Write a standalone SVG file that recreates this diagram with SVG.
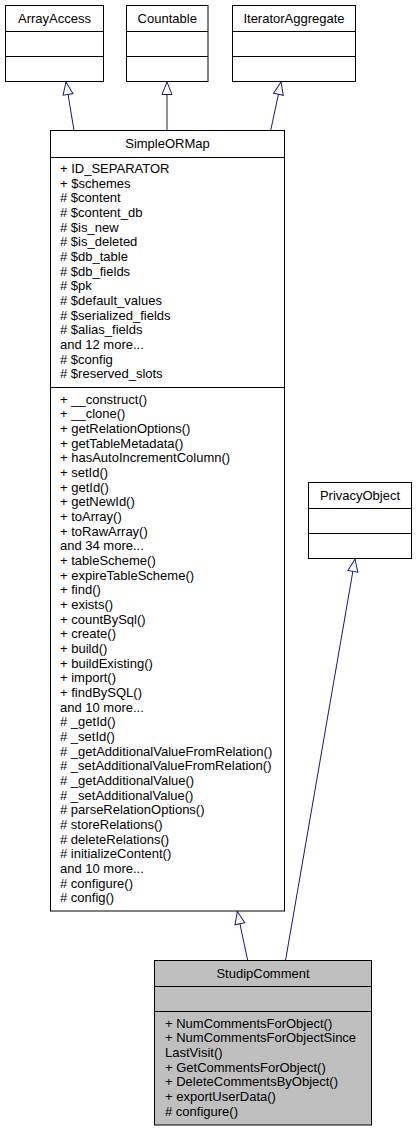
<svg xmlns="http://www.w3.org/2000/svg" width="418" height="1131" viewBox="0 0 418 1131">
<style>
  .box { fill: #ffffff; stroke: #000000; stroke-width: 1; }
  .cur { fill: #bfbfbf; stroke: #000000; stroke-width: 1; }
  .div { stroke: #000000; stroke-width: 1; fill: none; }
  text { font-family: "Liberation Sans", Arial, sans-serif; font-size: 13px; fill: #000000; }
  .t { text-anchor: middle; }
  .edge { stroke: #191970; stroke-width: 1; fill: none; marker-end: url(#inh); }
</style>
<defs>
  <marker id="inh" markerUnits="userSpaceOnUse" markerWidth="14" markerHeight="12" refX="13" refY="5.5" orient="auto" overflow="visible">
    <path d="M0.5,0.5 L13,5.5 L0.5,10.5 Z" fill="#ffffff" stroke="#191970" stroke-width="1"/>
  </marker>
</defs>
<rect width="418" height="1131" fill="#ffffff"/>

<g id="connectors">
  <path class="edge" d="M74,130.5 L66,82"/>
  <path class="edge" d="M167,130.5 L167,82"/>
  <path class="edge" d="M270.7,130.5 L281,82"/>
  <path class="edge" d="M247.7,960.5 L237.3,911.5"/>
  <path class="edge" d="M285.5,960.5 L355,559"/>
</g>

<g id="node-ArrayAccess">
  <rect class="box" x="5.5" y="5.5" width="98" height="76"/>
  <path class="div" d="M5.5,31.5 H103.5 M5.5,56.5 H103.5"/>
  <text class="t" x="54.5" y="23">ArrayAccess</text>
</g>

<g id="node-Countable">
  <rect class="box" x="126.5" y="5.5" width="81.5" height="76"/>
  <path class="div" d="M126.5,31.5 H208 M126.5,56.5 H208"/>
  <text class="t" x="167.25" y="23">Countable</text>
</g>

<g id="node-IteratorAggregate">
  <rect class="box" x="232.5" y="5.5" width="123" height="76"/>
  <path class="div" d="M232.5,31.5 H355.5 M232.5,56.5 H355.5"/>
  <text class="t" x="294" y="23">IteratorAggregate</text>
</g>

<g id="node-SimpleORMap">
  <rect class="box" x="50.5" y="130.5" width="234" height="780.5"/>
  <path class="div" d="M50.5,157.5 H284.5 M50.5,387.5 H284.5"/>
  <text class="t" x="167.5" y="148">SimpleORMap</text>
  <text x="60" y="172.8">+ ID_SEPARATOR</text>
  <text x="60" y="187.5">+ $schemes</text>
  <text x="60" y="202.1"># $content</text>
  <text x="60" y="216.8"># $content_db</text>
  <text x="60" y="231.5"># $is_new</text>
  <text x="60" y="246.1"># $is_deleted</text>
  <text x="60" y="260.8"># $db_table</text>
  <text x="60" y="275.5"># $db_fields</text>
  <text x="60" y="290.1"># $pk</text>
  <text x="60" y="304.8"># $default_values</text>
  <text x="60" y="319.5"># $serialized_fields</text>
  <text x="60" y="334.1"># $alias_fields</text>
  <text x="60" y="348.8">and 12 more...</text>
  <text x="60" y="363.5"># $config</text>
  <text x="60" y="378.1"># $reserved_slots</text>

  <text x="60" y="403.5">+ __construct()</text>
  <text x="60" y="418.2">+ __clone()</text>
  <text x="60" y="432.8">+ getRelationOptions()</text>
  <text x="60" y="447.5">+ getTableMetadata()</text>
  <text x="60" y="462.2">+ hasAutoIncrementColumn()</text>
  <text x="60" y="476.8">+ setId()</text>
  <text x="60" y="491.5">+ getId()</text>
  <text x="60" y="506.2">+ getNewId()</text>
  <text x="60" y="520.8">+ toArray()</text>
  <text x="60" y="535.5">+ toRawArray()</text>
  <text x="60" y="550.2">and 34 more...</text>
  <text x="60" y="564.8">+ tableScheme()</text>
  <text x="60" y="579.5">+ expireTableScheme()</text>
  <text x="60" y="594.2">+ find()</text>
  <text x="60" y="608.8">+ exists()</text>
  <text x="60" y="623.5">+ countBySql()</text>
  <text x="60" y="638.2">+ create()</text>
  <text x="60" y="652.8">+ build()</text>
  <text x="60" y="667.5">+ buildExisting()</text>
  <text x="60" y="682.2">+ import()</text>
  <text x="60" y="696.8">+ findBySQL()</text>
  <text x="60" y="711.5">and 10 more...</text>
  <text x="60" y="726.2"># _getId()</text>
  <text x="60" y="740.8"># _setId()</text>
  <text x="60" y="755.5"># _getAdditionalValueFromRelation()</text>
  <text x="60" y="770.2"># _setAdditionalValueFromRelation()</text>
  <text x="60" y="784.8"># _getAdditionalValue()</text>
  <text x="60" y="799.5"># _setAdditionalValue()</text>
  <text x="60" y="814.2"># parseRelationOptions()</text>
  <text x="60" y="828.8"># storeRelations()</text>
  <text x="60" y="843.5"># deleteRelations()</text>
  <text x="60" y="858.2"># initializeContent()</text>
  <text x="60" y="872.8">and 10 more...</text>
  <text x="60" y="887.5"># configure()</text>
  <text x="60" y="902.2"># config()</text>
</g>

<g id="node-PrivacyObject">
  <rect class="box" x="308.5" y="482.5" width="103" height="76"/>
  <path class="div" d="M308.5,508.5 H411.5 M308.5,533.5 H411.5"/>
  <text class="t" x="360" y="499.5">PrivacyObject</text>
</g>

<g id="node-StudipComment">
  <rect class="cur" x="154.5" y="960.5" width="217" height="164.5"/>
  <path class="div" d="M154.5,986.5 H371.5 M154.5,1011.5 H371.5"/>
  <text class="t" x="263" y="977.5">StudipComment</text>
  <text x="165" y="1027.5">+ NumCommentsForObject()</text>
  <text x="165" y="1042.2">+ NumCommentsForObjectSince</text>
  <text x="165" y="1056.8">LastVisit()</text>
  <text x="165" y="1071.5">+ GetCommentsForObject()</text>
  <text x="165" y="1086.2">+ DeleteCommentsByObject()</text>
  <text x="165" y="1100.8">+ exportUserData()</text>
  <text x="165" y="1115.5"># configure()</text>
</g>
</svg>
